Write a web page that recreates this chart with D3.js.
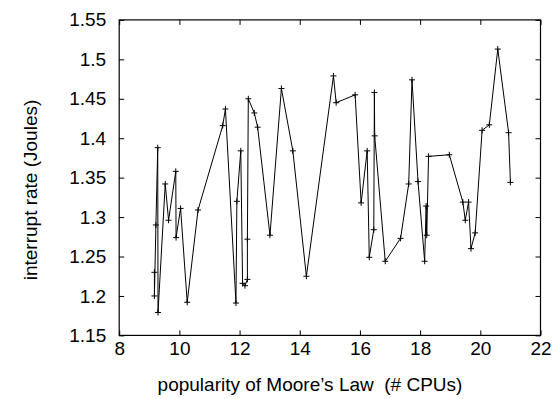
<!DOCTYPE html>
<html>
<head>
<meta charset="utf-8">
<script src="https://cdn.jsdelivr.net/npm/d3@7"></script>
<style>
  html, body { margin: 0; padding: 0; background: #fff; }
  svg text { font-family: "Liberation Sans", Arial, Helvetica, sans-serif; white-space: pre; }
</style>
</head>
<body>
<svg id="chart" width="557" height="399"></svg>
<script>
// ---- data ----
const xValues = [9.17, 9.17, 9.22, 9.28, 9.29, 9.53, 9.64, 9.88, 9.89, 10.04,
  10.26, 10.62, 11.44, 11.53, 11.88, 11.91, 12.04, 12.10, 12.18, 12.26,
  12.26, 12.29, 12.49, 12.60, 13.01, 13.39, 13.77, 14.22, 15.12, 15.21,
  15.84, 16.04, 16.24, 16.31, 16.46, 16.48, 16.49, 16.84, 17.35, 17.62,
  17.73, 17.93, 18.15, 18.20, 18.22, 18.28, 18.97, 19.42, 19.50, 19.61,
  19.69, 19.83, 20.06, 20.30, 20.58, 20.94, 21.00];
const yValues = [1.230, 1.200, 1.290, 1.388, 1.179, 1.342, 1.296, 1.358, 1.274, 1.311,
  1.192, 1.309, 1.416, 1.437, 1.191, 1.320, 1.384, 1.216, 1.213, 1.221,
  1.272, 1.450, 1.432, 1.414, 1.277, 1.463, 1.384, 1.225, 1.479, 1.445,
  1.455, 1.318, 1.384, 1.249, 1.284, 1.458, 1.403, 1.244, 1.273, 1.342,
  1.474, 1.345, 1.244, 1.314, 1.277, 1.377, 1.379, 1.319, 1.296, 1.319,
  1.260, 1.280, 1.410, 1.417, 1.513, 1.407, 1.344];
const xTicks = [8, 10, 12, 14, 16, 18, 20, 22];
const yTicks = [1.15, 1.2, 1.25, 1.3, 1.35, 1.4, 1.45, 1.5, 1.55];
const xLabel = "popularity of Moore\u2019s Law  (# CPUs)";
const yLabel = "interrupt rate (Joules)";

// ---- layout ----
const W = 557, H = 399;
const m = { left: 119.2, right: 16.5, top: 19.9, bottom: 63.6 };
const svg = d3.select("#chart");
const x = d3.scaleLinear().domain([8, 22]).range([m.left, W - m.right]);
const y = d3.scaleLinear().domain([1.15, 1.55]).range([H - m.bottom, m.top]);

const fmtY = d => (Math.round(d * 100) / 100).toString();
const FS = 19;

function styleAxis(g) {
  g.select(".domain").remove();
  g.selectAll(".tick line").attr("stroke", "#000").attr("stroke-width", 1);
  g.selectAll(".tick text").attr("fill", "#000").attr("font-size", FS)
    .attr("font-family", "'Liberation Sans', Arial, sans-serif");
}

svg.append("g").attr("transform", `translate(0,${H - m.bottom})`)
  .call(d3.axisBottom(x).tickValues(xTicks).tickSizeInner(-5).tickSizeOuter(0).tickPadding(6).tickFormat(d3.format("d")))
  .call(styleAxis);
svg.append("g").attr("transform", `translate(0,${m.top})`)
  .call(d3.axisTop(x).tickValues(xTicks).tickSizeInner(-5).tickSizeOuter(0).tickFormat(""))
  .call(styleAxis);
svg.append("g").attr("transform", `translate(${m.left},0)`)
  .call(d3.axisLeft(y).tickValues(yTicks).tickSizeInner(-5).tickSizeOuter(0).tickPadding(13).tickFormat(fmtY))
  .call(styleAxis);
svg.append("g").attr("transform", `translate(${W - m.right},0)`)
  .call(d3.axisRight(y).tickValues(yTicks).tickSizeInner(-5).tickSizeOuter(0).tickFormat(""))
  .call(styleAxis);

// frame
svg.append("rect")
  .attr("x", x(8)).attr("y", y(1.55))
  .attr("width", x(22) - x(8)).attr("height", y(1.15) - y(1.55))
  .attr("fill", "none").attr("stroke", "#000").attr("stroke-width", 1.2);

// data
const pts = xValues.map((v, i) => [v, yValues[i]]);
const line = d3.line().x(d => x(d[0])).y(d => y(d[1]));
svg.append("path").datum(pts).attr("d", line)
  .attr("fill", "none").attr("stroke", "#000").attr("stroke-width", 1);

const s = 3;
svg.append("g").selectAll("path.mark").data(pts).join("path")
  .attr("class", "mark")
  .attr("d", d => `M${x(d[0]) - s},${y(d[1])}H${x(d[0]) + s}M${x(d[0])},${y(d[1]) - s}V${y(d[1]) + s}`)
  .attr("stroke", "#000").attr("stroke-width", 1).attr("fill", "none");

// axis titles
svg.append("text").attr("x", 310).attr("y", 391)
  .attr("text-anchor", "middle").attr("font-size", FS).attr("fill", "#000")
  .text(xLabel);
svg.append("text")
  .attr("transform", `translate(37,190) rotate(-90)`)
  .attr("text-anchor", "middle").attr("font-size", FS).attr("fill", "#000")
  .text(yLabel);
</script>
</body>
</html>
